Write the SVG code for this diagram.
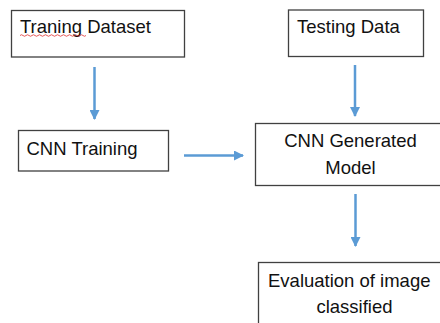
<svg xmlns="http://www.w3.org/2000/svg" width="440" height="323" viewBox="0 0 440 323">
<style>
.box{fill:#fff;stroke:#404040;stroke-width:1.3}
.t{font-family:"Liberation Sans","Noto Sans",sans-serif;font-size:18.5px;fill:#111}
.c{stroke:#5B9BD5;stroke-width:2.5;fill:none}
</style>
<defs>
<marker id="ah" markerWidth="4" markerHeight="4" refX="3.6" refY="2" orient="auto" markerUnits="strokeWidth">
<path d="M0,0 L4,2 L0,4 Z" fill="#5B9BD5"/>
</marker>
</defs>
<rect width="440" height="323" fill="#fff"/>
<g id="connectors">
<line class="c" x1="94.5" y1="67" x2="94.5" y2="119" marker-end="url(#ah)"/>
<line class="c" x1="355" y1="65" x2="355" y2="116" marker-end="url(#ah)"/>
<line class="c" x1="184" y1="155.5" x2="243" y2="155.5" marker-end="url(#ah)"/>
<line class="c" x1="355.5" y1="194" x2="355.5" y2="246" marker-end="url(#ah)"/>
</g>
<g id="traning-dataset">
<rect class="box" x="11.5" y="10.5" width="173" height="46.5"/>
<text class="t" x="20" y="33">Traning Dataset</text>
<path d="M20,35.5 q1.5,-1.5 3,0 t3,0 t3,0 t3,0 t3,0 t3,0 t3,0 t3,0 t3,0 t3,0 t3,0 t3,0 t3,0 t3,0 t3,0 t3,0 t3,0 t3,0 t3,0 t3,0 t3,0 t3,0" fill="none" stroke="#e03030" stroke-width="0.8"/>
</g>
<g id="testing-data">
<rect class="box" x="288.5" y="10" width="135" height="46.5"/>
<text class="t" x="297" y="33">Testing Data</text>
</g>
<g id="cnn-training">
<rect class="box" x="18.5" y="130.5" width="150" height="40.5"/>
<text class="t" x="26.5" y="155">CNN Training</text>
</g>
<g id="cnn-model">
<rect class="box" x="255.5" y="123.5" width="190" height="62"/>
<text class="t" x="350.5" y="147" text-anchor="middle">CNN Generated</text>
<text class="t" x="350.5" y="174" text-anchor="middle">Model</text>
</g>
<g id="evaluation">
<rect class="box" x="258.5" y="262.5" width="190" height="70"/>
<text class="t" x="268" y="287">Evaluation of image</text>
<text class="t" x="354.5" y="313" text-anchor="middle">classified</text>
</g>
</svg>
